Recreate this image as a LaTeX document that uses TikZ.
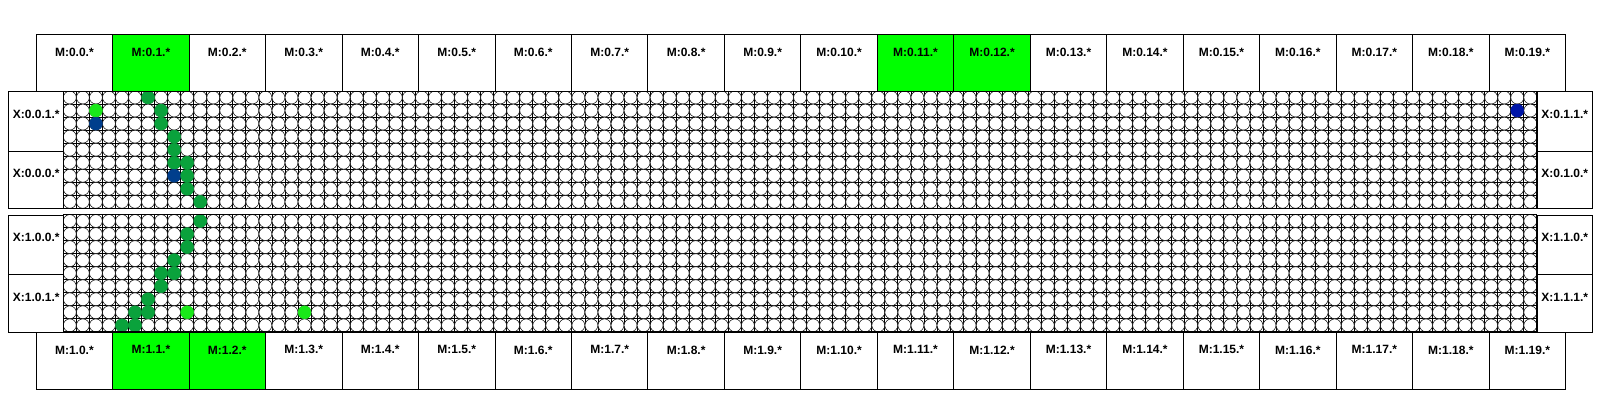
\documentclass[tikz,border=0pt]{standalone}
\usepackage{fontspec}
\setmainfont{Liberation Sans}
\definecolor{hot}{RGB}{0,255,0}
\definecolor{dkg}{RGB}{10,162,60}
\definecolor{ltg}{RGB}{25,232,25}
\definecolor{bl}{RGB}{0,62,140}
\definecolor{bl2}{RGB}{0,22,168}
\begin{document}
\begin{tikzpicture}[x=1pt,y=-1pt,
  box/.style={draw=black, line width=0.9pt, inner sep=0pt, anchor=north west},
  mbox/.style={box, minimum width=76.47pt, minimum height=56.8pt},
  lbl/.style={font=\bfseries\fontsize{12}{13}\selectfont, inner sep=0pt},
  gline/.style={black, line width=0.8pt},
  cell/.style={draw=black, fill=white, line width=0.5pt},
  dotc/.style={fill=#1, draw=#1, line width=0.4pt}]
\useasboundingbox (0,0) rectangle (1600,400);
\def\p{13.04}
% ---- grids ----
\foreach \T [count=\g] in {91,214.5} {
  \foreach \c in {0,...,113}
    \draw[gline] (63.3+\p*\c,\T) -- (63.3+\p*\c,\T+117.36);
  \foreach \r in {0,...,9}
    \draw[gline] (63.3,\T+\p*\r) -- (1536.82,\T+\p*\r);
  \foreach \c in {0,...,112}
    \foreach \r in {0,...,8}
      \draw[cell] (63.3+\p*\c+6.52,\T+\p*\r+6.52) circle[radius=6.45pt];
}
% ---- coloured dots: column/row/colour ----
\foreach \c/\r/\k in {6/0/dkg,2/1/ltg,2/2/bl,7/1/dkg,7/2/dkg,8/3/dkg,8/4/dkg,8/5/dkg,9/5/dkg,8/6/bl,9/6/dkg,9/7/dkg,10/8/dkg,111/1/bl2}
  \draw[dotc=\k] (63.3+\p*\c+6.52,91+\p*\r+6.52) circle[radius=6.5pt];
\foreach \c/\r/\k in {10/0/dkg,9/1/dkg,9/2/dkg,8/3/dkg,7/4/dkg,8/4/dkg,7/5/dkg,6/6/dkg,5/7/dkg,6/7/dkg,9/7/ltg,4/8/dkg,5/8/dkg,18/7/ltg}
  \draw[dotc=\k] (63.3+\p*\c+6.52,214.5+\p*\r+6.52) circle[radius=6.5pt];
% ---- group frames ----
\draw[gline] (63.3,91) rectangle (1536.82,208.36);
\draw[gline] (63.3,214.5) rectangle (1536.82,331.86);
% ---- X boxes ----
\foreach \n/\t/\h/\x/\s in {x001/91/59.7/8.3/X:0.0.1.*, x000/150.7/57.66/8.3/X:0.0.0.*,
    x011/91/59.7/1536.82/X:0.1.1.*, x010/150.7/57.66/1536.82/X:0.1.0.*,
    x100/214.5/59.8/8.3/X:1.0.0.*, x101/274.3/57.56/8.3/X:1.0.1.*,
    x110/214.5/59.8/1536.82/X:1.1.0.*, x111/274.3/57.56/1536.82/X:1.1.1.*} {
  \node[box, minimum width=55pt, minimum height=\h pt] (\n) at (\x,\t) {};
  \node[lbl] (\n l) at ([yshift=-23pt]\n.north) {\s};
}
% ---- M boxes ----
\foreach \i/\f in {0/white,1/hot,2/white,3/white,4/white,5/white,6/white,7/white,8/white,9/white,10/white,11/hot,12/hot,13/white,14/white,15/white,16/white,17/white,18/white,19/white} {
  \node[mbox, fill=\f] (mt\i) at (35.7+76.47*\i,34.3) {};
  \node[lbl] (mt\i l) at ([yshift=-18pt]mt\i.north) {M:0.\i.*};
}
\foreach \i/\f in {0/white,1/hot,2/hot,3/white,4/white,5/white,6/white,7/white,8/white,9/white,10/white,11/white,12/white,13/white,14/white,15/white,16/white,17/white,18/white,19/white} {
  \node[mbox, fill=\f] (mb\i) at (35.7+76.47*\i,331.86) {};
  \node[lbl] (mb\i l) at ([yshift=-18pt]mb\i.north) {M:1.\i.*};
}
\end{tikzpicture}
\end{document}
